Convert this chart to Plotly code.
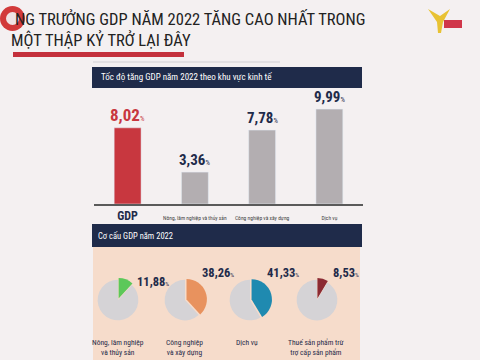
import plotly.graph_objects as go

# ---- data ----
bar_categories = ["GDP", "Nông, lâm nghiệp và thủy sản", "Công nghiệp và xây dựng", "Dịch vụ"]
bar_values = [8.02, 3.36, 7.78, 9.99]

pie_labels = ["Nông, lâm nghiệp<br>và thủy sản", "Công nghiệp<br>và xây dựng", "Dịch vụ", "Thuế sản phẩm trừ<br>trợ cấp sản phẩm"]
pie_values = [11.88, 38.26, 41.33, 8.53]

title_line1 = "NG TRƯỞNG GDP NĂM 2022 TĂNG CAO NHẤT TRONG"
title_line2 = "MỘT THẬP KỶ TRỞ LẠI ĐÂY"
bar_header = "Tốc độ tăng GDP năm 2022 theo khu vực kinh tế"
pie_header = "Cơ cấu GDP năm 2022"

# ---- style ----
W, H = 480, 360
FONT = "Roboto Condensed, DejaVu Sans Condensed, sans-serif"
NAVY = "#1f2b4a"
RED = "#c8373f"
GRAYBAR = "#b3aeb1"
BG = "#f4f0f1"
PEACH = "#f6dccb"
PIE_GRAY = "#d5d3d6"
PIE_COLORS = ["#5cc85a", "#e8925e", "#1f8ab0", "#8b2a33"]


def px(x):
    return x / W


def py(y):
    return 1 - y / H


fig = go.Figure()

# bars
bar_colors = [RED] + [GRAYBAR] * (len(bar_values) - 1)
fig.add_trace(go.Bar(
    x=bar_categories, y=bar_values, marker_color=bar_colors, width=0.4,
    hoverinfo="skip", showlegend=False, xaxis="x", yaxis="y",
))

annotations = []
for i, (c, v) in enumerate(zip(bar_categories, bar_values)):
    col = RED if i == 0 else NAVY
    txt = f"{v:.2f}".replace(".", ",")
    annotations.append(dict(
        x=c, y=v, xref="x", yref="y", yanchor="bottom", yshift=1,
        text=f"<b>{txt}</b><span style='font-size:7px'>%</span>",
        showarrow=False, font=dict(family=FONT, size=17 if i == 0 else 15, color=col),
    ))

ticktext = []
for i, c in enumerate(bar_categories):
    if i == 0:
        ticktext.append(f"<b><span style='font-size:12px;color:{NAVY}'>{c}</span></b>")
    else:
        ticktext.append(f"<span style='font-size:5.5px;color:#444'>{c}</span>")

# pies
pie_cx = [118, 185, 250, 317]
pie_cy = 300
R = 22
for v, col, cx in zip(pie_values, PIE_COLORS, pie_cx):
    fig.add_trace(go.Pie(
        values=[v, 100 - v], marker=dict(colors=[col, PIE_GRAY], line=dict(width=0)),
        sort=False, direction="clockwise", rotation=0, pull=[0.08, 0],
        textinfo="none", hoverinfo="skip", showlegend=False,
        domain=dict(x=[px(cx - R), px(cx + R)], y=[py(pie_cy + R), py(pie_cy - R)]),
    ))

pie_val_pos = [(135, 281), (200, 272), (265, 272), (331, 272)]
for v, (x, y) in zip(pie_values, pie_val_pos):
    txt = f"{v:.2f}".replace(".", ",")
    annotations.append(dict(
        x=px(x), y=py(y), xref="paper", yref="paper", xanchor="left", yanchor="middle",
        text=f"<b>{txt}</b><span style='font-size:6px'>%</span>", showarrow=False,
        font=dict(family=FONT, size=12.5, color=NAVY),
    ))

pie_lab_x = [118, 184, 247, 316]
for lab, x in zip(pie_labels, pie_lab_x):
    annotations.append(dict(
        x=px(x), y=py(336), xref="paper", yref="paper", xanchor="center", yanchor="top",
        text=lab, showarrow=False, align="center",
        font=dict(family=FONT, size=7.5, color=NAVY),
    ))

# title and headers
annotations += [
    dict(x=px(13), y=py(18), xref="paper", yref="paper", xanchor="left", yanchor="middle",
         text=title_line1, showarrow=False, font=dict(family=FONT, size=16.5, color="#222")),
    dict(x=px(9), y=py(40), xref="paper", yref="paper", xanchor="left", yanchor="middle",
         text=title_line2, showarrow=False, font=dict(family=FONT, size=16.5, color="#222")),
    dict(x=px(99), y=py(77), xref="paper", yref="paper", xanchor="left", yanchor="middle",
         text=bar_header, showarrow=False, font=dict(family=FONT, size=9, color="white")),
    dict(x=px(96), y=py(236), xref="paper", yref="paper", xanchor="left", yanchor="middle",
         text=pie_header, showarrow=False, font=dict(family=FONT, size=8.5, color="white")),
]

shapes = [
    # panels
    dict(type="rect", xref="paper", yref="paper", x0=px(93), x1=px(360), y0=py(360), y1=py(247),
         fillcolor=PEACH, line=dict(width=0), layer="below"),
    dict(type="rect", xref="paper", yref="paper", x0=px(92), x1=px(362), y0=py(88), y1=py(67),
         fillcolor=NAVY, line=dict(width=0), layer="below"),
    dict(type="rect", xref="paper", yref="paper", x0=px(92), x1=px(362), y0=py(247), y1=py(224),
         fillcolor=NAVY, line=dict(width=0), layer="below"),
    # title rules
    dict(type="rect", xref="paper", yref="paper", x0=px(13), x1=px(184), y0=py(57), y1=py(52),
         fillcolor="#c4303c", line=dict(width=0)),
    dict(type="line", xref="paper", yref="paper", x0=px(93), x1=px(280), y0=py(62), y1=py(62),
         line=dict(color="#d2d0d4", width=1)),
    # left logo
    dict(type="circle", xref="paper", yref="paper", x0=px(0), x1=px(25), y0=py(31), y1=py(6),
         fillcolor="#d23a3a", line=dict(width=0), layer="above"),
    dict(type="circle", xref="paper", yref="paper", x0=px(6), x1=px(19), y0=py(25), y1=py(12),
         fillcolor="#efe4e4", line=dict(width=0), layer="above"),
    # right logo (simplified)
    dict(type="path", xref="paper", yref="paper",
         path=f"M {px(428)} {py(9)} L {px(440)} {py(16)} L {px(450)} {py(9)} L {px(443)} {py(22)} "
              f"L {px(441)} {py(33)} L {px(438)} {py(33)} L {px(437)} {py(22)} Z",
         fillcolor="#e8c233", line=dict(width=0)),
    dict(type="rect", xref="paper", yref="paper", x0=px(444), x1=px(462), y0=py(28), y1=py(20),
         fillcolor="#d0364a", line=dict(width=0)),
]

fig.update_layout(
    width=W, height=H, margin=dict(l=0, r=0, t=0, b=0),
    paper_bgcolor=BG, plot_bgcolor="rgba(0,0,0,0)",
    font=dict(family=FONT),
    xaxis=dict(domain=[px(94), px(363)], tickmode="array", tickvals=bar_categories,
               ticktext=ticktext, tickangle=0, showline=True, linecolor="#5a5a5a", linewidth=1.5,
               showgrid=False, zeroline=False, ticks="", fixedrange=True),
    yaxis=dict(domain=[py(204), py(89)], range=[0, 115 / 9.5], visible=False,
               showgrid=False, zeroline=False),
    annotations=annotations, shapes=shapes, bargap=0.6,
)

fig.write_html("out.html", config={"displayModeBar": False},
               post_script="document.body.style.margin='0';")
